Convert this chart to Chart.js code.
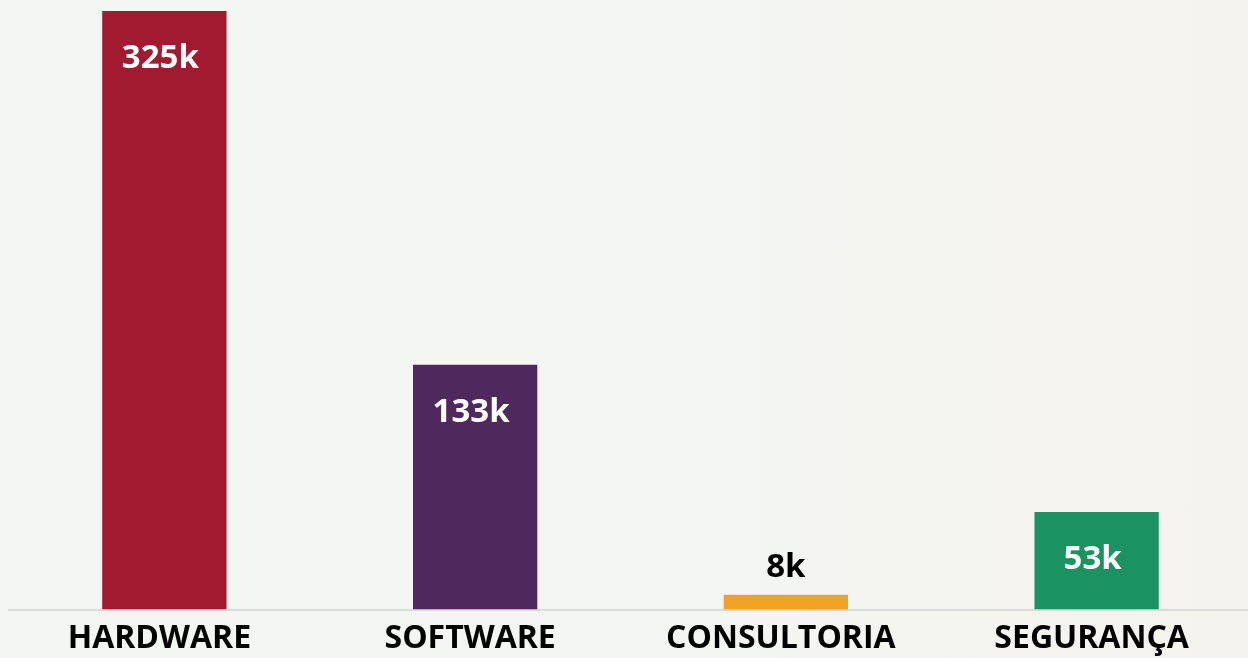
<!DOCTYPE html>
<html>
<head>
<meta charset="utf-8">
<script src="https://cdn.jsdelivr.net/npm/chart.js@4.4.1/dist/chart.umd.min.js"></script>
<style>
    html, body {
        margin: 0;
        padding: 0;
        overflow: hidden;
        width: 1248px;
        height: 658px;
        background: linear-gradient(90deg, #f4f6f4 0%, #f4f6f3 55%, #f5f3ee 100%);
    }
    #wrap {
        position: relative;
        width: 1252px;
        height: 668px;
    }
</style>
</head>
<body>
<div id="wrap"><canvas id="vendasChart"></canvas></div>
<script>
// Dados do gráfico
const categorias = ['HARDWARE', 'SOFTWARE', 'CONSULTORIA', 'SEGURANÇA'];
const valores = [325000, 133000, 8000, 53000];
const rotulos = ['325k', '133k', '8k', '53k'];
const cores = ['#a11a30', '#4f285e', '#efa426', '#1b9262'];

// Rótulos de valor: dentro da barra (branco) ou acima dela se a barra for baixa
const valueLabels = {
    id: 'valueLabels',
    afterDatasetsDraw(chart) {
        const ctx = chart.ctx;
        const meta = chart.getDatasetMeta(0);
        ctx.save();
        ctx.font = 'bold 33px "Open Sans"';
        ctx.textAlign = 'center';
        ctx.textBaseline = 'middle';
        meta.data.forEach((bar, i) => {
            const altura = bar.base - bar.y;
            if (altura > 60) {
                ctx.fillStyle = '#ffffff';
                ctx.fillText(rotulos[i], bar.x - 4, bar.y + 48);
            } else {
                ctx.fillStyle = '#000000';
                ctx.fillText(rotulos[i], bar.x, bar.y - 27);
            }
        });
        ctx.restore();
    }
};

document.addEventListener('DOMContentLoaded', function() {
    const ctx = document.getElementById('vendasChart');

    new Chart(ctx.getContext('2d'), {
        type: 'bar',
        data: {
            labels: categorias,
            datasets: [{
                data: valores,
                backgroundColor: cores,
                borderWidth: 0,
                barPercentage: 0.8,
                categoryPercentage: 0.5
            }]
        },
        options: {
            responsive: true,
            maintainAspectRatio: false,
            animation: false,
            layout: {
                padding: { left: 9, right: 0, top: 11, bottom: 0 }
            },
            plugins: {
                legend: { display: false },
                tooltip: { enabled: false }
            },
            scales: {
                x: {
                    grid: { display: false, drawTicks: false },
                    border: { color: '#dcdcdc', width: 2 },
                    ticks: {
                        color: '#000000',
                        padding: 10,
                        labelOffset: -5,
                        font: { family: '"Open Sans"', size: 32, weight: 'bold' }
                    }
                },
                y: {
                    display: false,
                    beginAtZero: true,
                    min: 0,
                    max: 325000
                }
            }
        },
        plugins: [valueLabels]
    });
});
</script>
</body>
</html>
